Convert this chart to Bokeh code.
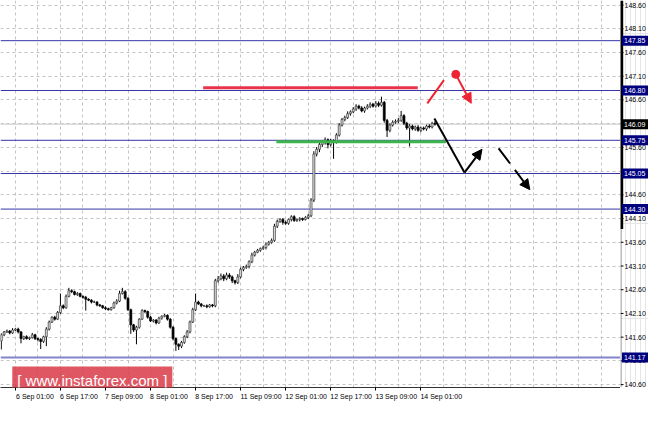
from bokeh.plotting import figure
from bokeh.layouts import row
from bokeh.models import Range1d, FixedTicker, Label, Arrow, NormalHead, ColumnDataSource
from bokeh.core.properties import value
from bokeh.embed import file_html
from bokeh.resources import INLINE

# ---- hourly closes, bar 0 = 5 Sep 20:00 ----
close = [
    141.65, 141.71, 141.73, 141.69, 141.75, 141.77, 141.71, 141.57, 141.61, 141.57,
    141.59, 141.65, 141.57, 141.55, 141.51, 141.61, 141.77, 141.92, 142.02, 141.98,
    142.12, 142.26, 142.22, 142.46, 142.58, 142.56, 142.50, 142.52, 142.46, 142.44,
    142.40, 142.38, 142.34, 142.34, 142.28, 142.26, 142.22, 142.20, 142.18, 142.22,
    142.32, 142.36, 142.52, 142.56, 142.42, 142.18, 141.86, 141.75, 141.81, 141.98,
    142.16, 142.14, 142.02, 141.94, 141.96, 141.90, 142.00, 142.04, 142.06, 141.98,
    141.81, 141.57, 141.45, 141.41, 141.49, 141.61, 141.71, 141.92, 142.18, 142.34,
    142.30, 142.26, 142.26, 142.24, 142.28, 142.26, 142.79, 142.83, 142.89, 142.83,
    142.91, 142.87, 142.79, 142.75, 142.87, 143.03, 143.07, 143.09, 143.19, 143.33,
    143.39, 143.43, 143.47, 143.49, 143.56, 143.60, 143.64, 143.94, 144.04, 144.08,
    144.02, 144.00, 144.08, 144.14, 144.06, 144.08, 144.10, 144.08, 144.12, 144.16,
    144.49, 145.46, 145.56, 145.66, 145.70, 145.76, 145.66, 145.74, 145.72, 145.86,
    146.07, 146.19, 146.23, 146.31, 146.35, 146.41, 146.47, 146.43, 146.37, 146.43,
    146.47, 146.51, 146.47, 146.53, 146.49, 146.55, 146.17, 145.96, 146.07, 146.13,
    146.15, 146.17, 146.27, 146.11, 146.01, 146.05, 145.99, 146.03, 145.96, 146.01,
    145.99, 146.05, 146.03, 146.11, 146.09,
]
open0 = 141.52
# wick lengths beyond the body, in hundredths
up_wick = [
    3, 2, 3, 2, 4, 2, 3, 2, 2, 3,   2, 4, 2, 2, 3, 2, 4, 3, 2, 3,
    3, 26, 3, 4, 6, 3, 2, 3, 2, 2,  3, 2, 2, 3, 2, 2, 2, 3, 2, 2,
    3, 4, 6, 8, 3, 2, 2, 2, 3, 2,   3, 2, 2, 3, 2, 2, 3, 2, 3, 2,
    2, 2, 2, 2, 3, 3, 4, 3, 4, 18,  3, 2, 2, 3, 2, 2, 4, 6, 5, 4,
    5, 4, 3, 2, 6, 4, 3, 4, 3, 5,   3, 3, 2, 4, 3, 3, 4, 5, 4, 3,
    3, 4, 2, 3, 3, 2, 3, 2, 3, 4,   4, 6, 5, 4, 4, 5, 3, 4, 3, 4,
    4, 3, 4, 5, 3, 4, 4, 3, 4, 3,   4, 4, 3, 5, 4, 12, 3, 3, 4, 4,
    4, 5, 10, 3, 3, 4, 3, 3, 4, 3,  3, 3, 4, 3, 4,
]
dn_wick = [
    18, 3, 2, 3, 2, 2, 3, 10, 3, 2,  3, 2, 3, 4, 16, 3, 20, 3, 2, 3,
    2, 3, 3, 2, 2, 3, 2, 3, 2, 3,    24, 2, 3, 2, 3, 2, 2, 3, 2, 2,
    2, 3, 2, 2, 3, 3, 19, 4, 30, 3,  2, 3, 3, 2, 3, 3, 2, 3, 2, 3,
    3, 4, 14, 8, 4, 3, 3, 3, 2, 3,   2, 3, 2, 3, 2, 3, 3, 4, 3, 5,
    3, 4, 5, 4, 3, 3, 4, 3, 4, 3,    3, 2, 3, 3, 4, 3, 3, 3, 4, 3,
    5, 3, 3, 4, 3, 3, 4, 3, 2, 3,    3, 4, 5, 6, 5, 4, 8, 4, 36, 4,
    3, 3, 4, 3, 4, 3, 4, 3, 3, 4,    3, 4, 3, 3, 4, 3, 5, 14, 4, 3,
    3, 4, 3, 4, 4, 39, 3, 4, 3, 4,   3, 4, 3, 3, 3,
]

time_tick_bars = [5, 21, 37, 53, 69, 85, 101, 117, 133, 149]
time_tick_labels = ["6 Sep 01:00", "6 Sep 17:00", "7 Sep 09:00", "8 Sep 01:00",
                    "8 Sep 17:00", "11 Sep 09:00", "12 Sep 01:00", "12 Sep 17:00",
                    "13 Sep 09:00", "14 Sep 01:00"]
price_ticks = [140.60, 141.10, 141.60, 142.10, 142.60, 143.10, 143.60, 144.10,
               144.60, 145.10, 145.60, 146.10, 146.60, 147.10, 147.60, 148.10, 148.60]
grid_bars = [5, 13, 21, 29, 37, 45, 53, 61, 69, 77, 85, 93, 101, 109, 117, 125, 133,
             141, 149, 157, 165, 173, 181, 189, 197, 205, 213]

levels = [147.85, 146.80, 145.75, 145.05, 144.30]
level_low = 141.17
bid_price = 146.09
scale_bar_low = 143.88   # lower end of the thick part of the price scale line

resist_x = [71.7, 147.9]
resist_y = 146.86
support_x = [97.7, 157.9]
support_y = 145.72

# forecast scenarios
red_up_x = [151.3, 157.2]
red_up_y = [146.53, 147.02]
red_dot = (161.4, 147.14)
red_arrow_end = (166.9, 146.53)
black_down_x = [153.8, 164.5]
black_down_y = [146.21, 145.07]
black_arrow_end = (170.7, 145.56)
dash_start = (176.6, 145.58)
dash_end = (187.7, 144.71)

FONT = "Liberation Sans"
X0, X1 = -0.28, 219.9
Y0, Y1 = 140.539, 148.697
FRAME_W, FRAME_H = 620, 387
NBSP_W = 1.95          # width of a no-break space at 7px
CHAR_W = 3.45          # average label glyph width at 7px
LEVEL_COLOR = "#3535a8"

n = len(close)
opens = [open0] + close[:-1]
highs = [max(o, c) + u / 100 for o, c, u in zip(opens, close, up_wick)]
lows = [min(o, c) - d / 100 for o, c, d in zip(opens, close, dn_wick)]
idx = list(range(n))
bull = [i for i in idx if close[i] >= opens[i]]
bear = [i for i in idx if close[i] < opens[i]]

p = figure(frame_width=FRAME_W, frame_height=FRAME_H, output_backend="svg",
           toolbar_location=None, x_range=Range1d(X0, X1), y_range=Range1d(Y0, Y1),
           y_axis_location=None, min_border=0)
p.outline_line_color = None
p.background_fill_color = "white"

# grid
p.xgrid.ticker = FixedTicker(ticks=grid_bars)
p.ygrid.ticker = FixedTicker(ticks=price_ticks)
for g in (p.xgrid, p.ygrid):
    g.grid_line_color = "#c4c4c4"
    g.grid_line_dash = "3 3"
    g.grid_line_width = 1


# time axis: labels start at their tick (MetaTrader style), done by padding
# each centred label on its left with no-break spaces
def padded(b, t):
    tick_px = (b - X0) * FRAME_W / (X1 - X0)
    pad = len(t) * CHAR_W
    if pad > tick_px:          # label would be pushed inside the canvas
        pad = tick_px
    return "\u00a0" * round(pad / NBSP_W) + t


xa = p.xaxis[0]
xa.ticker = FixedTicker(ticks=time_tick_bars)
xa.major_label_overrides = {b: padded(b, t) for b, t in zip(time_tick_bars, time_tick_labels)}
xa.major_label_text_font = FONT
xa.major_label_text_font_size = "7px"
xa.major_label_text_color = "black"
xa.major_tick_out = 3
xa.major_tick_in = 0
xa.minor_tick_out = 0
xa.minor_tick_in = 0
xa.major_label_standoff = 2
xa.axis_line_color = "#333333"

# horizontal levels
for lv in levels:
    p.line(x=[X0, X1], y=[lv, lv], line_color=LEVEL_COLOR, line_width=1)
p.line(x=[X0, X1], y=[level_low, level_low], line_color="#8484cc", line_width=2)
p.line(x=[X0, X1], y=[bid_price, bid_price], line_color="#c8c8c8", line_width=1)

# candles
src = ColumnDataSource(dict(x=idx, h=highs, l=lows))
p.segment(x0="x", y0="l", x1="x", y1="h", source=src, line_color="black", line_width=1)
bsrc = ColumnDataSource(dict(x=bull, top=[close[i] for i in bull],
                             bottom=[opens[i] for i in bull]))
rsrc = ColumnDataSource(dict(x=bear, top=[opens[i] for i in bear],
                             bottom=[close[i] for i in bear]))
p.vbar(x="x", top="top", bottom="bottom", width=0.7, source=bsrc,
       fill_color="#e0e0e0", line_color="#3a3a3a", line_width=0.7)
p.vbar(x="x", top="top", bottom="bottom", width=0.7, source=rsrc,
       fill_color="black", line_color="black", line_width=0.7)

# resistance / support zones
p.line(x=resist_x, y=[resist_y, resist_y], line_color="#e8334a", line_width=3)
p.line(x=support_x, y=[support_y, support_y], line_color="#3cb54a", line_width=3)

# forecast
RED = "#ee2233"
p.line(x=red_up_x, y=red_up_y, line_color=RED, line_width=2)
p.scatter(x=[red_dot[0]], y=[red_dot[1]], size=8, color=RED)
p.add_layout(Arrow(end=NormalHead(size=10, fill_color=RED, line_color=RED),
                   x_start=red_dot[0], y_start=red_dot[1],
                   x_end=red_arrow_end[0], y_end=red_arrow_end[1],
                   line_color=RED, line_width=2))
p.line(x=black_down_x, y=black_down_y, line_color="black", line_width=2)
p.add_layout(Arrow(end=NormalHead(size=10, fill_color="black", line_color="black"),
                   x_start=black_down_x[1], y_start=black_down_y[1],
                   x_end=black_arrow_end[0], y_end=black_arrow_end[1],
                   line_color="black", line_width=2))
p.add_layout(Arrow(end=NormalHead(size=10, fill_color="black", line_color="black"),
                   x_start=dash_start[0], y_start=dash_start[1],
                   x_end=dash_end[0], y_end=dash_end[1],
                   line_color="black", line_width=2, line_dash="19 8"))

# watermark
p.add_layout(Label(x=3.9, y=Y0, y_offset=-6, text="[ www.instaforex.com ]",
                   text_font=FONT, text_font_size="15px", text_color="white",
                   text_align="left", text_baseline="bottom",
                   background_fill_color="#d93a48", background_fill_alpha=0.85,
                   padding=5))

# ---- price scale column (shares the price range) ----
s = figure(frame_width=28, frame_height=FRAME_H, output_backend="svg",
           toolbar_location=None, x_range=Range1d(0, 28), y_range=p.y_range,
           x_axis_location=None, y_axis_location=None, min_border=0)
s.outline_line_color = None
s.background_fill_color = "white"
s.line(x=[0.5, 0.5], y=[Y0, Y1], line_color="#7a7a7a", line_width=1)
s.line(x=[1.2, 1.2], y=[scale_bar_low, Y1], line_color="black", line_width=3)
s.segment(x0=[0] * len(price_ticks), y0=price_ticks, x1=[3] * len(price_ticks),
          y1=price_ticks, line_color="black", line_width=1)
s.text(x=[4] * len(price_ticks), y=price_ticks,
       text=[f"{t:.2f}" for t in price_ticks], text_font=value(FONT),
       text_font_size="7px", text_color="black", text_align="left",
       text_baseline="middle")
box_vals = levels + [level_low]
s.rect(x=[14.5] * len(box_vals), y=box_vals, width=26, height=10, height_units="screen",
       fill_color="#00007f", line_color=None)
s.rect(x=[14.5], y=[bid_price], width=26, height=10, height_units="screen",
       fill_color="black", line_color=None)
s.text(x=[3.5] * (len(box_vals) + 1), y=box_vals + [bid_price],
       text=[f"{v:.2f}" for v in box_vals + [bid_price]], text_font=value(FONT),
       text_font_size="7px", text_color="white", text_align="left",
       text_baseline="middle")

layout = row(p, s, spacing=0)
open("out.html", "w").write(file_html(layout, INLINE))
